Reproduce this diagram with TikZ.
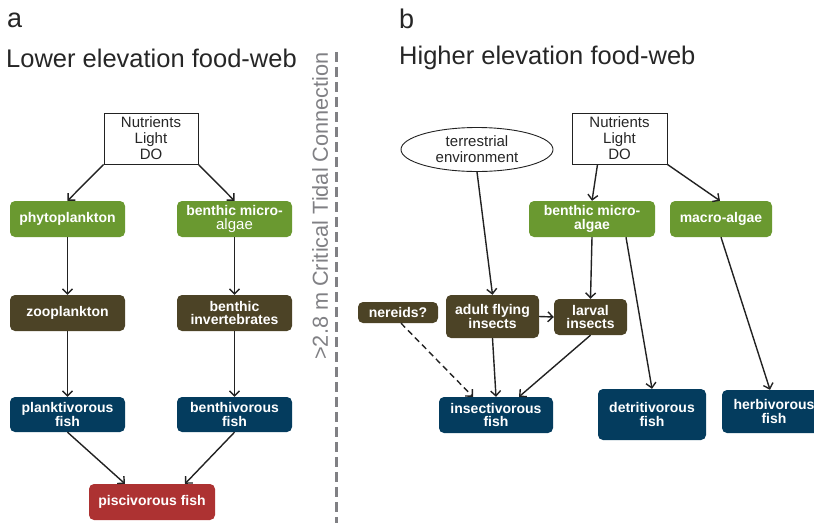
\documentclass[tikz,border=0pt]{standalone}
\usepackage{fontspec}
\setmainfont{Liberation Sans}
\usetikzlibrary{arrows.meta,shapes.geometric}
\definecolor{cgreen}{RGB}{106,153,48}
\definecolor{colive}{RGB}{76,67,38}
\definecolor{cnavy}{RGB}{4,60,94}
\definecolor{cred}{RGB}{173,50,50}
\definecolor{cline}{RGB}{34,34,34}
\definecolor{cdiv}{RGB}{128,128,132}
\begin{document}
\begin{tikzpicture}[x=1pt,y=-1pt,
  box/.style={rounded corners=5pt, inner sep=0pt, align=center, text=white,
    font=\bfseries\fontsize{14}{13.5}\selectfont},
  greenbox/.style={box, fill=cgreen},
  olivebox/.style={box, fill=colive},
  navybox/.style={box, fill=cnavy},
  redbox/.style={box, fill=cred},
  inbox/.style={draw=cline, fill=white, line width=0.9pt, inner sep=0pt, align=center,
    text=black!85, font=\fontsize{15}{16}\selectfont},
  arr/.style={draw=cline, line width=1.4pt, -{Straight Barb[length=5pt,width=10pt]}},
  heading/.style={anchor=west, inner sep=0pt, text=black!85, font=\fontsize{25.5}{28}\selectfont}
]
\useasboundingbox (0,0) rectangle (814,523);

% headings
\node[heading, font=\fontsize{27}{28}\selectfont] (la) at (7,20) {a};
\node[heading] (lt) at (6,58) {Lower elevation food-web};
\node[heading, font=\fontsize{27}{28}\selectfont] (lb) at (399,19) {b};
\node[heading] (rt) at (399,58) {Higher elevation food-web};

% divider
\coordinate (dtop) at (336,52);
\coordinate (dbot) at (336,523);
\draw[cdiv, line width=3pt, dash pattern=on 10pt off 5pt] (dtop) -- (dbot);
\node[rotate=90, inner sep=0pt, text=cdiv, font=\fontsize{21.7}{22}\selectfont] (crit) at (320,206) {>2.8 m Critical Tidal Connection};

% left panel
\node[inbox, minimum width=94pt, minimum height=51pt] (nutL) at (151,138.5) {Nutrients\\Light\\DO};
\node[greenbox, minimum width=115pt, minimum height=36pt] (phyto) at (67.5,219) {phytoplankton};
\node[greenbox, minimum width=115pt, minimum height=36pt] (bmaL) at (234.5,219) {benthic micro-\\{\mdseries\fontsize{15}{14}\selectfont algae}};
\node[olivebox, minimum width=115pt, minimum height=36pt] (zoo) at (67.5,313) {zooplankton};
\node[olivebox, minimum width=115pt, minimum height=36pt] (binv) at (234.5,313) {benthic\\invertebrates};
\node[navybox, minimum width=115pt, minimum height=35pt] (plank) at (67.5,414.5) {planktivorous\\fish};
\node[navybox, minimum width=115pt, minimum height=35pt] (benthiv) at (234.5,414.5) {benthivorous\\fish};
\node[redbox, minimum width=126pt, minimum height=36pt] (pisc) at (152,502) {piscivorous fish};

\draw[arr] (nutL.south west) -- (phyto.north);
\draw[arr] (nutL.south east) -- (bmaL.north);
\draw[arr] (phyto.south) -- (zoo.north);
\draw[arr] (bmaL.south) -- (binv.north);
\draw[arr] (zoo.south) -- (plank.north);
\draw[arr] (binv.south) -- (benthiv.north);
\draw[arr] (plank.south) -- ([xshift=-27pt]pisc.north);
\draw[arr] (benthiv.south) -- ([xshift=33pt]pisc.north);

% right panel
\node[inbox, ellipse, minimum width=152pt, minimum height=44pt] (terr) at (477,149.5) {terrestrial\\environment};
\node[inbox, minimum width=95pt, minimum height=51pt] (nutR) at (619.5,138.5) {Nutrients\\Light\\DO};
\node[greenbox, minimum width=126pt, minimum height=36pt] (bmaR) at (592,219) {benthic micro-\\algae};
\node[greenbox, minimum width=102pt, minimum height=36pt] (macro) at (721,219) {macro-algae};
\node[olivebox, minimum width=80pt, minimum height=21pt] (nere) at (398,312.5) {nereids?};
\node[olivebox, minimum width=93pt, minimum height=43pt] (adult) at (492.5,316.5) {adult flying\\insects};
\node[olivebox, minimum width=73pt, minimum height=36pt] (larval) at (590.5,317) {larval\\insects};
\node[navybox, minimum width=114pt, minimum height=36pt] (insect) at (496,415) {insectivorous\\fish};
\node[navybox, minimum width=108pt, minimum height=51pt] (detrit) at (652,414.5) {detritivorous\\fish};
\node[navybox, minimum width=104pt, minimum height=43pt] (herb) at (774,411.5) {herbivorous\\fish};

\draw[arr] (terr.south) -- (adult.north);
\draw[arr] ([xshift=-22pt]nutR.south) -- (bmaR.north);
\draw[arr] (nutR.south east) -- ([xshift=-1pt]macro.north);
\draw[arr] (bmaR.south) -- (larval.north);
\draw[arr] (adult.east) -- (larval.west);
\draw[arr] ([xshift=34pt]bmaR.south) -- (detrit.north);
\draw[arr] (macro.south) -- ([xshift=-4pt]herb.north);
\draw[arr, dash pattern=on 6pt off 4pt] ([xshift=3pt]nere.south) -- ([xshift=-23pt]insect.north);
\draw[arr] (adult.south) -- (insect.north);
\draw[arr] (larval.south) -- ([xshift=23pt]insect.north);
\end{tikzpicture}
\end{document}
